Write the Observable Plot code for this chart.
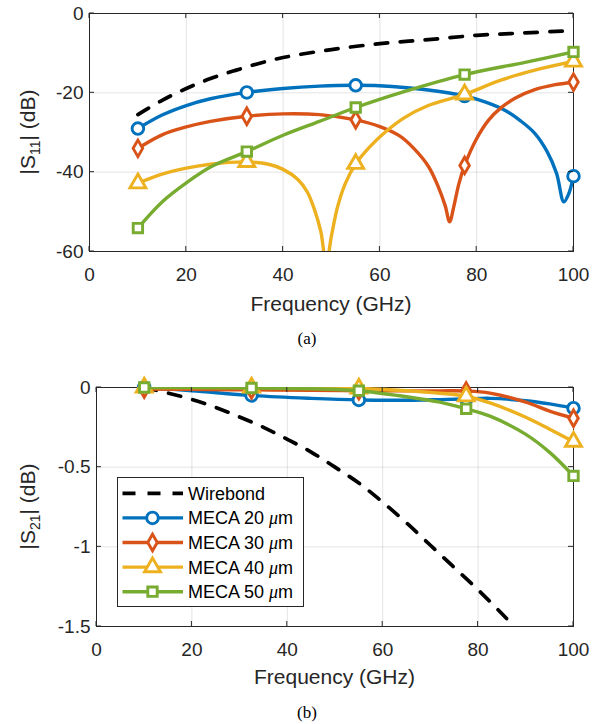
<!DOCTYPE html>
<html>
<head>
<meta charset="utf-8">
<script src="https://cdn.jsdelivr.net/npm/d3@7"></script>
<script src="https://cdn.jsdelivr.net/npm/@observablehq/plot@0.6"></script>
<style>
  body { margin: 0; background: #fff; }
  #wrap { position: relative; width: 600px; height: 724px; overflow: hidden; background: #fff; }
  #wrap svg { position: absolute; left: 0; }
</style>
</head>
<body>
<div id="wrap"></div>
<script>
// ---------- shared ----------
const seriesNames = ["Wirebond", "MECA 20 μm", "MECA 30 μm", "MECA 40 μm", "MECA 50 μm"];
const seriesColors = ["#000000", "#0072BD", "#D95319", "#EDB120", "#77AC30"];
const seriesSymbols = [null, "circle", "diamond", "triangle", "square"];
const markerFreqs = [10, 32.5, 55, 77.5, 100];
const xTicks = [0, 20, 40, 60, 80, 100];

// ---------- (a) |S11| (dB) ----------
const s11WireF  = [10, 15, 20, 25, 30, 35, 40, 50, 60, 70, 80, 90, 100];
const s11WireDb = [-25.5, -21.9, -18.9, -16.4, -14.4, -12.6, -11.1, -9.1, -7.6, -6.6, -5.5, -4.9, -4.3];

const s11M20F  = [10, 15, 20, 25, 32.5, 40, 47.5, 55, 62.5, 70, 77.5, 82, 86, 89, 92, 94.5, 96.5, 98, 99, 100];
const s11M20Db = [-29, -25.6, -23.2, -21.5, -19.9, -18.9, -18.3, -18.1, -18.4, -19.3, -20.8, -22.4, -24.5, -27, -30.2, -34.7, -40.3, -47.5, -45.5, -41];

const s11M30F  = [10, 15, 20, 25, 32.5, 40, 47.5, 55, 60, 64, 67, 70, 72, 73.5, 74.4, 75.3, 76.3, 77.5, 80, 82.5, 85, 88, 92, 96, 100];
const s11M30Db = [-34, -30.6, -28.6, -27.2, -25.9, -25.3, -25.5, -26.8, -28.5, -30.8, -34, -38.5, -43.5, -48.5, -52.5, -48.5, -43, -38.3, -31.5, -26.8, -23.8, -21.3, -19.2, -18, -17.3];

const s11M40F  = [10, 15, 20, 25, 32.5, 37, 40, 43, 45, 46.5, 47.8, 48.9, 50, 51.2, 52.8, 55, 58, 61, 65, 70, 77.5, 85, 92, 100];
const s11M40Db = [-42.8, -40.5, -39, -38, -37.4, -38, -39.3, -41.8, -45, -49.5, -55, -63, -56, -49, -43, -37.9, -33.5, -30, -26.3, -23.2, -20.4, -16.8, -14.3, -12.1];

const s11M50F  = [10, 15, 20, 25, 32.5, 40, 47.5, 55, 65, 77.5, 90, 100];
const s11M50Db = [-54.1, -47.5, -42.7, -38.7, -34.8, -30.7, -27.2, -23.7, -19.7, -15.4, -12.3, -9.7];

const s11Ticks = [0, -20, -40, -60];

// ---------- (b) |S21| (dB) ----------
const s21WireF  = [10, 15, 20, 25, 30, 35, 40, 45, 50, 55, 60, 65, 70, 75, 80, 85, 90];
const s21WireDb = [0, -0.035, -0.075, -0.125, -0.185, -0.25, -0.325, -0.405, -0.5, -0.6, -0.72, -0.85, -0.99, -1.13, -1.27, -1.42, -1.58];

const s21F = [10, 20, 32.5, 45, 55, 65, 72, 77.5, 82.5, 90, 95, 100];
const s21M20Db = [0, -0.02, -0.05, -0.068, -0.078, -0.08, -0.076, -0.072, -0.068, -0.083, -0.103, -0.13];
const s21M30Db = [-0.01, -0.012, -0.015, -0.018, -0.02, -0.021, -0.021, -0.022, -0.035, -0.092, -0.148, -0.193];
const s21M40Db = [0, 0, 0, -0.002, -0.006, -0.02, -0.036, -0.055, -0.097, -0.187, -0.262, -0.34];
const s21M50Db = [0, -0.001, -0.003, -0.008, -0.02, -0.058, -0.092, -0.134, -0.18, -0.294, -0.407, -0.555];

const s21Ticks = [0, -0.5, -1, -1.5];

// ---------- helpers ----------
const FONT = "'Liberation Sans', Arial, Helvetica, sans-serif";
const SERIF = "'Liberation Serif', 'Times New Roman', serif";
const symbolR = {circle: 5.8, diamond: 5.0, triangle: 5.9, square: 5.3};
const pair = (F, V) => F.map((f, i) => ({f, v: V[i]}));

function chart({top, height, marginLeft, marginTop, marginBottom, yDomain, yTicks, series, sub, caption, xlabBaseline, captionBaseline, legend}) {
  const marks = [
    Plot.gridX(xTicks.slice(1, -1), {stroke: "#000", strokeOpacity: 0.11, strokeWidth: 1}),
    Plot.gridY(yTicks.slice(1, -1), {stroke: "#000", strokeOpacity: 0.11, strokeWidth: 1}),
    Plot.frame({stroke: "#262626", strokeWidth: 1}),
    Plot.axisX({ticks: xTicks, tickSize: 0, tickPadding: 16, fontSize: 19, tickFormat: d => String(d), label: null, fill: "#262626"}),
    Plot.axisY({ticks: yTicks, tickSize: 0, tickPadding: 6, fontSize: 19, tickFormat: d => String(d), label: null, fill: "#262626"})
  ];
  series.forEach((s, i) => {
    const data = pair(s.F, s.V);
    if (i === 0) {
      marks.push(Plot.line(data, {x: "f", y: "v", stroke: seriesColors[0], strokeWidth: 3.7, strokeDasharray: "12.5,12.5", curve: "catmull-rom", clip: true}));
    } else {
      marks.push(Plot.line(data, {x: "f", y: "v", stroke: seriesColors[i], strokeWidth: 3.4, curve: "catmull-rom", clip: true}));
      const sym = seriesSymbols[i];
      marks.push(Plot.dot(data.filter(d => markerFreqs.includes(d.f)), {x: "f", y: "v", symbol: () => sym, r: symbolR[sym], stroke: seriesColors[i], strokeWidth: 2.9, fill: "white"}));
    }
  });
  const plot = Plot.plot({
    width: 600, height, marginLeft, marginRight: 27, marginTop, marginBottom,
    x: {domain: [0, 100]},
    y: {domain: yDomain},
    style: {fontFamily: FONT, background: "transparent", overflow: "visible"},
    marks
  });
  plot.style.top = top + "px";
  const svg = d3.select(plot);
  const sx = plot.scale("x"), sy = plot.scale("y");
  const [yb, yt] = sy.range;
  const [xl, xr] = sx.range;
  // inward tick marks on all four sides
  const g = svg.append("g").attr("stroke", "#262626").attr("stroke-width", 1);
  for (const t of xTicks) {
    const X = sx.apply(t);
    g.append("line").attr("x1", X).attr("x2", X).attr("y1", yb).attr("y2", yb - 5);
    g.append("line").attr("x1", X).attr("x2", X).attr("y1", yt).attr("y2", yt + 5);
  }
  for (const t of yTicks) {
    const Y = sy.apply(t);
    g.append("line").attr("y1", Y).attr("y2", Y).attr("x1", xl).attr("x2", xl + 5);
    g.append("line").attr("y1", Y).attr("y2", Y).attr("x1", xr).attr("x2", xr - 5);
  }
  // x label
  svg.append("text").attr("x", (xl + xr) / 2).attr("y", xlabBaseline).attr("text-anchor", "middle")
    .attr("font-family", FONT).attr("font-size", 21).attr("fill", "#262626").text("Frequency (GHz)");
  // y label with subscript
  const yl = svg.append("text").attr("transform", `translate(35,${(yb + yt) / 2}) rotate(-90)`)
    .attr("text-anchor", "middle").attr("font-family", FONT).attr("font-size", 21).attr("fill", "#262626");
  yl.append("tspan").text("|S");
  yl.append("tspan").attr("font-size", 14).attr("dy", 5).text(sub);
  yl.append("tspan").attr("dy", -5).text("| (dB)");
  // caption
  svg.append("text").attr("x", 307).attr("y", captionBaseline).attr("text-anchor", "middle")
    .attr("font-family", SERIF).attr("font-size", 17).attr("fill", "#000").text(caption);
  if (legend) {
    const L = svg.append("g").attr("text-anchor", "start");
    L.append("rect").attr("x", 117.5).attr("y", 115.5).attr("width", 186).attr("height", 129)
      .attr("fill", "white").attr("stroke", "#262626").attr("stroke-width", 1);
    seriesNames.forEach((name, i) => {
      const y = 131.3 + 24.6 * i;
      L.append("line").attr("x1", 122.5).attr("x2", 183).attr("y1", y).attr("y2", y)
        .attr("stroke", seriesColors[i]).attr("stroke-width", i === 0 ? 3.7 : 3.4)
        .attr("stroke-dasharray", i === 0 ? "13,12" : null);
      if (i > 0) {
        const sym = seriesSymbols[i];
        const type = {circle: d3.symbolCircle, diamond: d3.symbolDiamond, triangle: d3.symbolTriangle, square: d3.symbolSquare}[sym];
        L.append("path").attr("transform", `translate(152.5,${y})`)
          .attr("d", d3.symbol(type, Math.PI * symbolR[sym] ** 2)())
          .attr("fill", "white").attr("stroke", seriesColors[i]).attr("stroke-width", 2.9);
      }
      const t = L.append("text").attr("x", 188).attr("y", y + 6.5).attr("text-anchor", "start")
        .attr("font-family", FONT).attr("font-size", 18).attr("fill", "#000");
      const m = name.match(/^(.*?)(μ)(m)$/);
      if (m) {
        t.append("tspan").text(m[1]);
        t.append("tspan").attr("font-style", "italic").attr("font-family", SERIF).text(m[2]);
        t.append("tspan").text(m[3]);
      } else t.text(name);
    });
  }
  document.getElementById("wrap").appendChild(plot);
}

chart({
  top: 0, height: 362, marginLeft: 89, marginTop: 13, marginBottom: 111,
  yDomain: [-60, 0], yTicks: s11Ticks, sub: "11", caption: "(a)",
  xlabBaseline: 311, captionBaseline: 344,
  series: [
    {F: s11WireF, V: s11WireDb}, {F: s11M20F, V: s11M20Db}, {F: s11M30F, V: s11M30Db},
    {F: s11M40F, V: s11M40Db}, {F: s11M50F, V: s11M50Db}
  ]
});

chart({
  top: 362, height: 362, marginLeft: 96, marginTop: 25, marginBottom: 98,
  yDomain: [-1.5, 0], yTicks: s21Ticks, sub: "21", caption: "(b)",
  xlabBaseline: 322, captionBaseline: 356, legend: true,
  series: [
    {F: s21WireF, V: s21WireDb}, {F: s21F, V: s21M20Db}, {F: s21F, V: s21M30Db},
    {F: s21F, V: s21M40Db}, {F: s21F, V: s21M50Db}
  ]
});
</script>
</body>
</html>
